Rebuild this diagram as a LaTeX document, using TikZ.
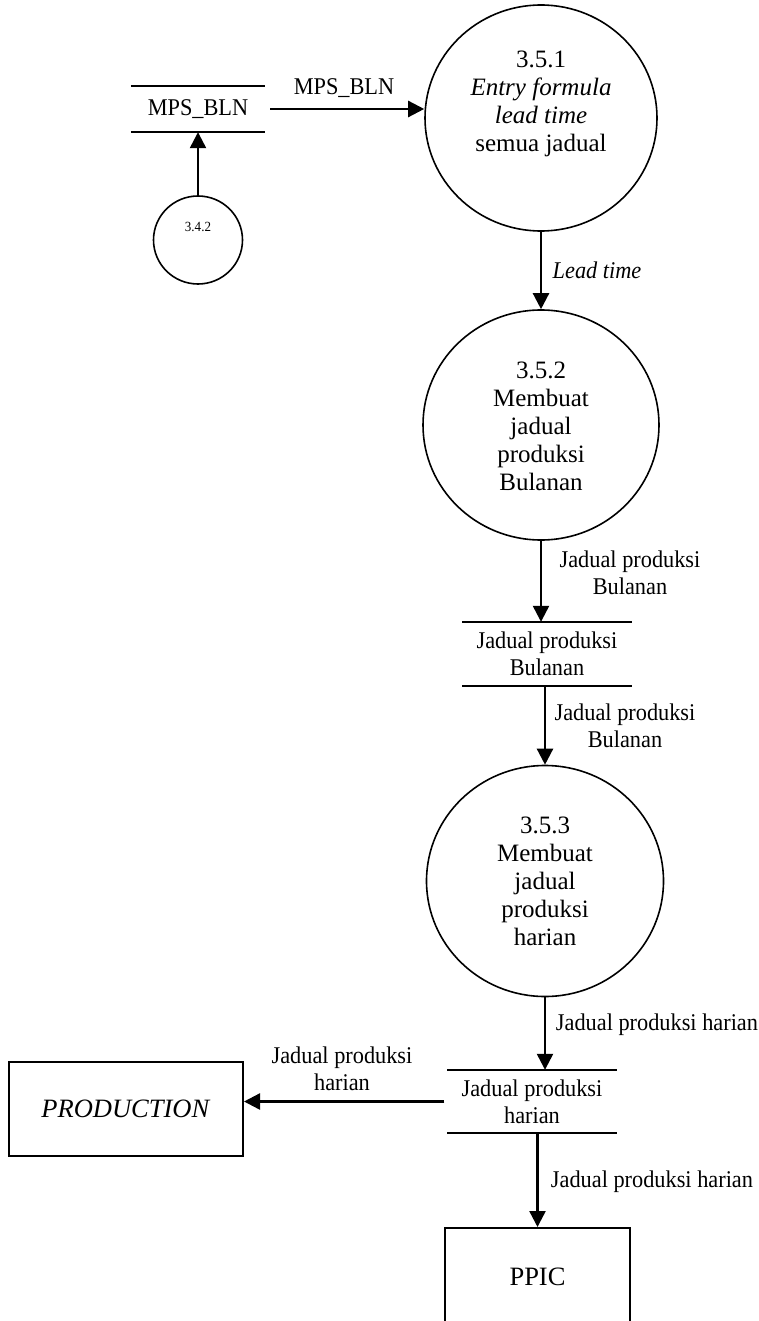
\documentclass[tikz,border=0pt]{standalone}
\usepackage{fontspec}
\setmainfont{Liberation Serif}
\newfontfamily\narrowserif{Liberation Serif}[FakeStretch=0.93]
\usetikzlibrary{arrows.meta,shapes.geometric}
\begin{document}
\begin{tikzpicture}[x=1pt,y=-1pt,
  proc/.style={ellipse, draw, line width=1.6pt, inner sep=0pt},
  ptext/.style={align=center, font=\fontsize{25}{28}\selectfont, inner sep=0pt},
  flow/.style={line width=2.4pt, -{Triangle[length=16pt,width=16pt]}},
  flowlabel/.style={align=center, font=\narrowserif\fontsize{24}{27}\selectfont, inner sep=0pt},
  storetext/.style={rectangle, align=center, inner sep=0pt, font=\narrowserif\fontsize{24}{27}\selectfont},
  storeline/.style={line width=2pt},
  ext/.style={rectangle, draw, line width=2pt, inner sep=0pt, font=\fontsize{26.5}{30}\selectfont}
]
\useasboundingbox (0,0) rectangle (759,1321);

% processes
\node[proc, minimum width=232pt, minimum height=226pt] (p351) at (541,118) {};
\node[ptext] (t351) at (541,104) {3.5.1\\\textit{Entry formula}\\\textit{lead time}\\semua jadual};

\node[proc, minimum width=236pt, minimum height=230pt] (p352) at (541,425) {};
\node[ptext] (t352) at (541,426) {3.5.2\\Membuat\\jadual\\produksi\\Bulanan};

\node[proc, minimum width=237pt, minimum height=231pt] (p353) at (545,881) {};
\node[ptext] (t353) at (545,881) {3.5.3\\Membuat\\jadual\\produksi\\harian};

\node[proc, minimum width=89pt, minimum height=88pt] (p342) at (198,240) {};
\node[inner sep=0pt, font=\narrowserif\fontsize{14}{16}\selectfont] (t342) at (198,227) {3.4.2};

% data stores
\node[storetext, minimum width=134pt, minimum height=46pt] (mps) at (198,109) {MPS\_BLN};
\draw[storeline] (mps.north west) -- (mps.north east) (mps.south west) -- (mps.south east);

\node[storetext, minimum width=169pt, minimum height=64pt] (sb) at (547,654) {Jadual produksi\\Bulanan};
\draw[storeline] (sb.north west) -- (sb.north east) (sb.south west) -- (sb.south east);

\node[storetext, minimum width=169pt, minimum height=63pt] (sh) at (532,1101.5) {Jadual produksi\\harian};
\draw[storeline] (sh.north west) -- (sh.north east) (sh.south west) -- (sh.south east);

% external entities
\node[ext, minimum width=234pt, minimum height=94pt] (prod) at (126,1109) {\textit{PRODUCTION}};
\node[ext, minimum width=185pt, minimum height=98pt] (ppic) at (537.5,1277) {PPIC};

% flows
\draw[flow] (p342.north) -- (mps.south);
\draw[flow] ([xshift=5pt]mps.east) -- (p351.west |- mps.east);
\draw[flow] (p351.south) -- (p352.north);
\draw[flow] (p352.south) -- (sb.north -| p352.south);
\draw[flow] (p353.north |- sb.south) -- (p353.north);
\draw[flow] (p353.south) -- (sh.north -| p353.south);
\draw[flow] ([xshift=-3pt]sh.west) -- (prod.east |- sh.west);
\draw[flow] (sh.south -| ppic.north) -- (ppic.north);

% flow labels
\node[flowlabel] (lmps) at (344,88) {MPS\_BLN};
\node[flowlabel] (llead) at (597,270) {\textit{Lead time}};
\node[flowlabel] (lb1) at (630,573) {Jadual produksi\\Bulanan};
\node[flowlabel] (lb2) at (625,726) {Jadual produksi\\Bulanan};
\node[flowlabel] (lh1) at (657,1025) {Jadual produksi harian};
\node[flowlabel] (lh2) at (342,1069) {Jadual produksi\\harian};
\node[flowlabel] (lh3) at (652,1182) {Jadual produksi harian};
\end{tikzpicture}
\end{document}
